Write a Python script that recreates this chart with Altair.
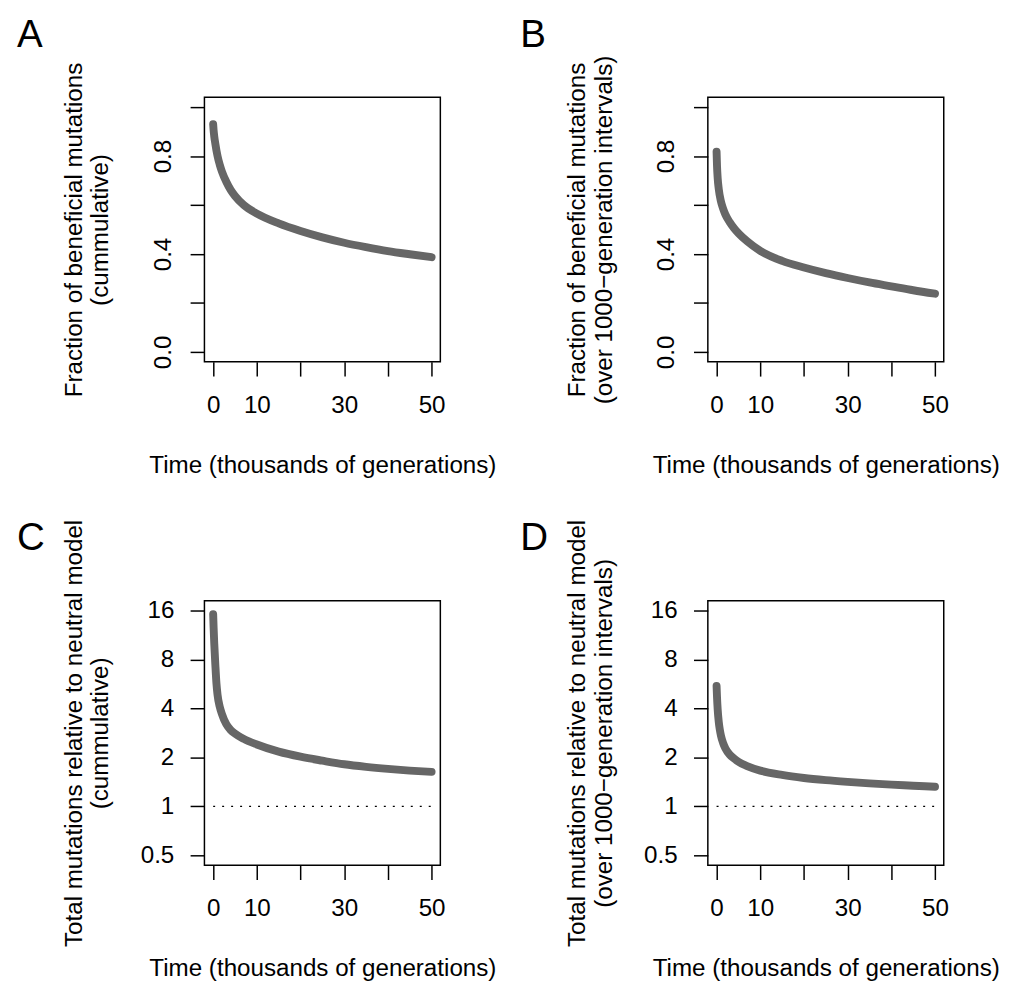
import altair as alt
import pandas as pd

FONT = "Liberation Sans"

# ---- data ----
# Panel A: fraction of beneficial mutations (cumulative)
time_a = [0, 0.1, 0.25, 0.5, 1, 1.5, 2, 3, 4, 5, 7, 10, 15, 20, 25, 30, 35, 40, 45, 50]
frac_cum = [0.93, 0.905, 0.88, 0.85, 0.80, 0.765, 0.737, 0.695, 0.662, 0.637,
            0.60, 0.565, 0.525, 0.494, 0.468, 0.446, 0.428, 0.412, 0.399, 0.387]

# Panel B: fraction of beneficial mutations (1000-generation intervals)
time_b = [0, 0.1, 0.25, 0.5, 1, 1.5, 2, 3, 4, 5, 7, 10, 15, 20, 25, 30, 35, 40, 45, 50]
frac_int = [0.818, 0.76, 0.71, 0.665, 0.615, 0.585, 0.562, 0.53, 0.505, 0.485,
            0.452, 0.413, 0.372, 0.345, 0.322, 0.302, 0.284, 0.268, 0.252, 0.238]

# Panel C: total mutations relative to neutral model (cumulative)
time_c = [0, 0.1, 0.25, 0.5, 0.75, 1, 1.5, 2, 3, 4, 5, 7, 10, 15, 20, 25, 30, 35, 40, 45, 50]
rel_cum = [15.2, 12.6, 10.0, 7.4, 5.7, 4.85, 4.1, 3.7, 3.2, 2.95, 2.8, 2.6,
           2.40, 2.17, 2.02, 1.91, 1.815, 1.75, 1.70, 1.66, 1.63]

# Panel D: total mutations relative to neutral model (1000-generation intervals)
time_d = [0, 0.1, 0.25, 0.5, 0.75, 1, 1.5, 2, 3, 4, 5, 7, 10, 15, 20, 25, 30, 35, 40, 45, 50]
rel_int = [5.5, 4.7, 3.95, 3.3, 2.95, 2.72, 2.45, 2.28, 2.08, 1.97, 1.88, 1.77,
           1.66, 1.56, 1.495, 1.45, 1.415, 1.385, 1.36, 1.34, 1.32]

# neutral reference line
neutral_x = [0, 50]
neutral_y = 1

letters = ["A", "B", "C", "D"]
x_ticks = [0, 10, 20, 30, 40, 50]
frac_ticks = [0, 0.2, 0.4, 0.6, 0.8, 1.0]
rel_ticks = [0.5, 1, 2, 4, 8, 16]
x_title = "Time (thousands of generations)"
y_titles = [
    ["Fraction of beneficial mutations", "(cummulative)"],
    ["Fraction of beneficial mutations", "(over 1000\u2212generation intervals)"],
    ["Total mutations relative to neutral model", "(cummulative)"],
    ["Total mutations relative to neutral model", "(over 1000\u2212generation intervals)"],
]

W, H = 239, 268
FS = 24.5

x_axis = alt.Axis(
    values=x_ticks,
    labelExpr="datum.value == 20 || datum.value == 40 ? '' : datum.label",
    format="d",
    tickSize=14.5, tickWidth=1.5, tickColor="black",
    domain=False, grid=False,
    labelFont=FONT, labelFontSize=FS, labelColor="black",
    labelPadding=17.5, labelFlush=False, labelOverlap=False,
    title=x_title, titleFont=FONT, titleFontSize=FS, titleFontWeight="normal",
    titleColor="black", titlePadding=36.8, minExtent=56, maxExtent=56,
)
x_scale = alt.Scale(domain=[-2, 52], nice=False, zero=False)


def y_axis_frac(title):
    return alt.Axis(
        values=frac_ticks,
        labelExpr="(abs(datum.value) < 1e-9 || abs(datum.value - 0.4) < 1e-9 || abs(datum.value - 0.8) < 1e-9) ? format(datum.value, '.1f') : ''",
        tickSize=14.5, tickWidth=1.5, tickColor="black",
        domain=False, grid=False,
        labelFont=FONT, labelFontSize=FS, labelColor="black",
        labelAngle=270, labelAlign="center", labelBaseline="alphabetic",
        labelPadding=20, labelFlush=False, labelOverlap=False,
        title=title, titleFont=FONT, titleFontSize=FS, titleFontWeight="normal",
        titleColor="black", titlePadding=33, titleLineHeight=27,
        minExtent=60, maxExtent=60,
    )


def y_axis_rel(title):
    return alt.Axis(
        values=rel_ticks, format="~g",
        tickSize=14.5, tickWidth=1.5, tickColor="black",
        domain=False, grid=False,
        labelFont=FONT, labelFontSize=FS, labelColor="black",
        labelAngle=0, labelAlign="right", labelBaseline="middle",
        labelPadding=16.5, labelFlush=False, labelOverlap=False,
        title=title, titleFont=FONT, titleFontSize=FS, titleFontWeight="normal",
        titleColor="black", titlePadding=33, titleLineHeight=27,
        minExtent=60, maxExtent=60,
    )


frac_scale = alt.Scale(domain=[-0.04, 1.04], nice=False, zero=False)
rel_scale = alt.Scale(type="log", base=2, domain=[0.5 / 2 ** 0.2, 16 * 2 ** 0.2], nice=False)


def panel(times, vals, letter, title, log):
    df = pd.DataFrame({"t": times, "v": vals})
    yaxis = y_axis_rel(title) if log else y_axis_frac(title)
    yscale = rel_scale if log else frac_scale
    line = alt.Chart(df).mark_line(
        color="#666666", strokeWidth=8, strokeCap="round", strokeJoin="round",
        interpolate="monotone",
    ).encode(
        x=alt.X("t:Q", scale=x_scale, axis=x_axis),
        y=alt.Y("v:Q", scale=yscale, axis=yaxis),
    )
    layers = [line]
    if log:
        ref = pd.DataFrame({"x0": [neutral_x[0]], "x1": [neutral_x[1]], "y": [neutral_y]})
        rule = alt.Chart(ref).mark_rule(
            color="black", strokeWidth=1.3, strokeDash=[2, 7.1]
        ).encode(x=alt.X("x0:Q"), x2="x1:Q", y=alt.Y("y:Q"))
        layers.append(rule)
    lab = alt.Chart(pd.DataFrame({"L": [letter]})).mark_text(
        font=FONT, fontSize=39, align="left", baseline="alphabetic", color="black"
    ).encode(text="L:N", x=alt.value(-190), y=alt.value(-51))
    layers.append(lab)
    return alt.layer(*layers).properties(width=W, height=H)


pA = panel(time_a, frac_cum, letters[0], y_titles[0], False)
pB = panel(time_b, frac_int, letters[1], y_titles[1], False)
pC = panel(time_c, rel_cum, letters[2], y_titles[2], True)
pD = panel(time_d, rel_int, letters[3], y_titles[3], True)

top = alt.hconcat(pA, pB, spacing=22)
bottom = alt.hconcat(pC, pD, spacing=22)
chart = alt.vconcat(top, bottom, spacing=40).properties(
    padding={"left": 8, "top": 1, "right": 0, "bottom": 0}
).configure_view(stroke="black", strokeWidth=1.5)

chart.save("out.html", embed_options={"renderer": "svg", "actions": False})
